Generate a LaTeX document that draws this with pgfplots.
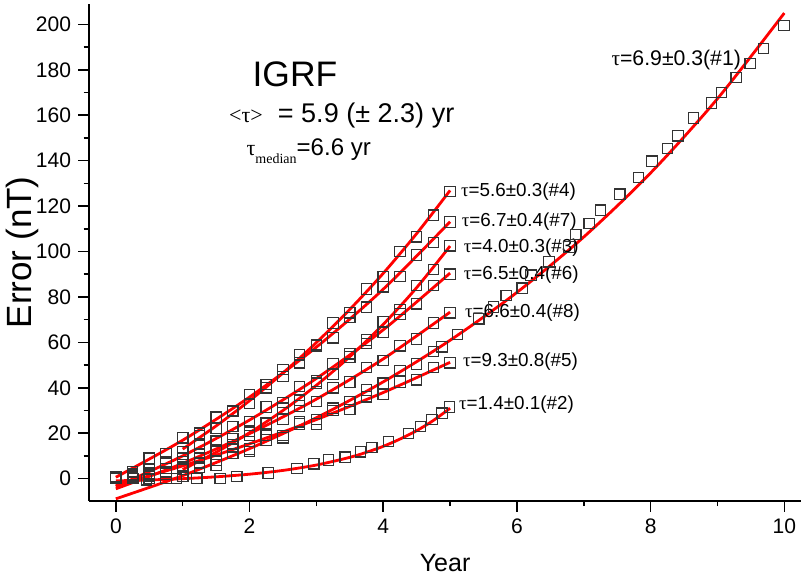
\documentclass[border=0pt]{standalone}
\usepackage{fontspec}
\setmainfont{Liberation Sans}
\newfontfamily\serif{Liberation Serif}
\usepackage{pgfplots}
\pgfplotsset{compat=1.18}
\usetikzlibrary{calc}

\pgfplotsset{
  pts/.style={only marks, mark=square, mark size=2.6pt,
    mark options={draw=black!80, line width=0.6pt}},
  fit/.style={red, line width=1.4pt, smooth, no marks},
}

\begin{document}
\begin{tikzpicture}
\begin{axis}[
  width=355.5pt, height=248pt, scale only axis,
  xmin=-0.4, xmax=10.25, ymin=-9.7, ymax=209,
  axis lines=left, axis line style={-, line width=1pt},
  xtick={0,2,...,10}, minor xtick={1,3,...,9},
  ytick={0,20,...,200}, minor ytick={10,30,...,190},
  tick align=outside, major tick length=5.5pt, minor tick length=2.8pt,
  every tick/.style={black, line width=0.8pt},
  tick label style={font=\fontsize{10.5}{12}\selectfont},
  /pgf/number format/assume math mode=true,
  xlabel={Year}, ylabel={Error (nT)},
  xlabel style={at={(axis description cs:0.5,-0.125)}, anchor=center,
    font=\fontsize{12.5}{15}\selectfont},
  ylabel style={at={(axis description cs:-0.0935,0.5)}, anchor=center,
    font=\fontsize{17.5}{20}\selectfont},
  clip=false,
]
% data, #1
\addplot[pts] coordinates {(0,0)(0.25,0)(0.5,0)(0.75,0)(1,1)(1.25,5)(1.5,6)(1.75,11)(2,12)(2.25,17)(2.5,19)(2.75,24)(3,26)(3.25,31)(3.5,34)(3.75,39)(4,42)(4.25,47.5)(4.5,50.5)(4.75,56)
  (4.88,58)(5.11,63.5)(5.43,70.4)(5.65,75.6)(5.84,80.6)(6.08,83.8)(6.21,89.6)(6.48,95.5)(6.78,102)(6.88,107.5)(7.08,112.4)(7.25,118.2)(7.54,125.2)(7.82,132.6)(8.02,139.8)(8.25,145.4)(8.41,151)(8.64,158.8)(8.91,165.4)(9.06,170.1)(9.28,176.7)(9.49,182.8)(9.69,189.4)(9.995,199.6)};
% #2
\addplot[pts] coordinates {(0,0)(0.26,0)(0.46,-0.5)(0.91,0)(1.21,0)(1.56,0)(1.81,1)(2.28,2.5)(2.71,4.5)(2.96,6.5)(3.18,8.2)(3.43,9.4)(3.66,11.8)(3.83,13.7)(4.08,16.4)(4.38,19.8)(4.56,23)(4.73,26)(4.88,28.8)(4.99,31.5)};
% #3
\addplot[pts] coordinates {(0,0)(0.25,1)(0.5,2)(0.75,3)(1,5)(1.25,7)(1.5,12.5)(1.75,15)(2,21)(2.25,24)(2.5,31)(2.75,34.5)(3,42)(3.25,46)(3.5,55)(3.75,59.5)(4,69)(4.25,74.5)(4.5,85)(4.75,92)(5,102.5)};
% #4
\addplot[pts] coordinates {(0,1)(0.25,2)(0.5,4)(0.75,7)(1,12)(1.25,19)(1.5,22)(1.75,30)(2,33)(2.25,41.5)(2.5,45)(2.75,54.5)(3,58.5)(3.25,68.5)(3.5,73)(3.75,83.5)(4,89)(4.25,100)(4.5,106.5)(4.75,116)(5,126.5)};
% #5
\addplot[pts] coordinates {(0,0)(0.25,0)(0.5,1.5)(0.75,2)(1,4)(1.25,9)(1.5,8)(1.75,14)(2,13)(2.25,19)(2.5,18)(2.75,25)(3,24)(3.25,30)(3.5,30.5)(3.75,36)(4,37)(4.25,42.5)(4.5,43.5)(4.75,49)(5,51)};
% #6
\addplot[pts] coordinates {(0,0)(0.25,1.5)(0.5,2.5)(0.75,7.5)(1,9)(1.25,15)(1.5,16.5)(1.75,23)(2,25)(2.25,31.5)(2.5,33.5)(2.75,40.5)(3,43)(3.25,50.5)(3.5,53.5)(3.75,61)(4,64.5)(4.25,72.5)(4.5,77)(4.75,85)(5,90)};
% #7
\addplot[pts] coordinates {(0,0.5)(0.25,3)(0.5,9)(0.75,11)(1,18)(1.25,20)(1.5,27)(1.75,29.5)(2,37)(2.25,40)(2.5,48)(2.75,51)(3,59)(3.25,62)(3.5,71)(3.75,75.5)(4,84.5)(4.25,89)(4.5,98.5)(4.75,104)(5,113)};
% #8
\addplot[pts] coordinates {(0,0)(0.25,0.5)(0.5,1)(0.75,4.5)(1,6)(1.25,11)(1.5,12)(1.75,17.5)(2,19)(2.25,24.5)(2.5,26)(2.75,32)(3,34)(3.25,40)(3.5,42.5)(3.75,49)(4,52)(4.25,58.5)(4.5,61.5)(4.75,68.5)(5,73)};

% fitted curves
\addplot[fit] coordinates {(0,-8.9)(1,1.3)(2,13.2)(3,26.8)(4,42.6)(5,60.9)(6,82.0)(7,106.4)(8,134.6)(9,167.3)(10,205.0)};
\addplot[fit] coordinates {(0,-1.0)(0.5,-0.6)(1,-0.04)(1.5,0.78)(2,1.94)(2.5,3.6)(3,5.97)(3.5,9.36)(3.75,11.6)(4,14.2)(4.25,17.4)(4.5,21.1)(4.75,25.6)(5,31.0)};
\addplot[fit] coordinates {(1,4.0)(1.5,11.6)(2,20.2)(2.5,30.0)(3,41.1)(3.5,53.7)(4,67.9)(4.5,84.1)(5,102.4)};
\addplot[fit] coordinates {(1,13.0)(1.5,23.2)(2,34.3)(2.5,46.5)(3,59.9)(3.5,74.5)(4,90.4)(4.5,107.9)(5,126.9)};
\addplot[fit] coordinates {(0,-3.0)(1,5.6)(2,15.3)(3,26.0)(4,37.9)(5,51.2)};
\addplot[fit] coordinates {(0,-3.5)(1,10.0)(2,25.8)(3,44.1)(4,65.5)(5,90.5)};
\addplot[fit] coordinates {(0,0.6)(1,16.9)(2,35.9)(3,57.9)(4,83.4)(5,113.1)};
\addplot[fit] coordinates {(0,-4.5)(1,6.7)(2,19.8)(3,35.0)(4,52.7)(5,73.3)};

% annotations
\begin{scope}[every node/.style={anchor=west, inner sep=0pt, font=\fontsize{9.4}{11}\selectfont}]
\node at (axis cs:5.16,126.4) {{\serif τ}=5.6±0.3(\#4)};
\node at (axis cs:5.17,113.2) {{\serif τ}=6.7±0.4(\#7)};
\node at (axis cs:5.2,101.9) {{\serif τ}=4.0±0.3(\#3)};
\node at (axis cs:5.2,90) {{\serif τ}=6.5±0.4(\#6)};
\node at (axis cs:5.22,73.2) {{\serif τ}=6.6±0.4(\#8)};
\node at (axis cs:5.19,51.4) {{\serif τ}=9.3±0.8(\#5)};
\node at (axis cs:5.13,32.5) {{\serif τ}=1.4±0.1(\#2)};
\end{scope}
\node[anchor=west, inner sep=0pt, font=\fontsize{10.6}{12}\selectfont] at (axis cs:7.41,184.5) {{\serif τ}=6.9±0.3(\#1)};
\node[anchor=west, inner sep=0pt, font=\fontsize{17.7}{20}\selectfont] at (axis cs:2.04,178) {IGRF};
\node[anchor=west, inner sep=0pt, font=\fontsize{13.5}{15}\selectfont] at (axis cs:1.69,159.8) {{\fontsize{11}{13}\selectfont\serif <τ>}\ \ = 5.9 (± 2.3) yr};
\node[anchor=west, inner sep=0pt, font=\fontsize{12}{14}\selectfont] at (axis cs:1.95,144) {{\fontsize{11}{13}\selectfont\serif τ\raisebox{-4pt}{\fontsize{7}{8}\selectfont median}}=6.6 yr};
\end{axis}
\pgfresetboundingbox
\path ($(current axis.south west)+(-44.5pt,-38pt)$) rectangle ($(current axis.north east)+(0.5pt,2pt)$);
\end{tikzpicture}
\end{document}
